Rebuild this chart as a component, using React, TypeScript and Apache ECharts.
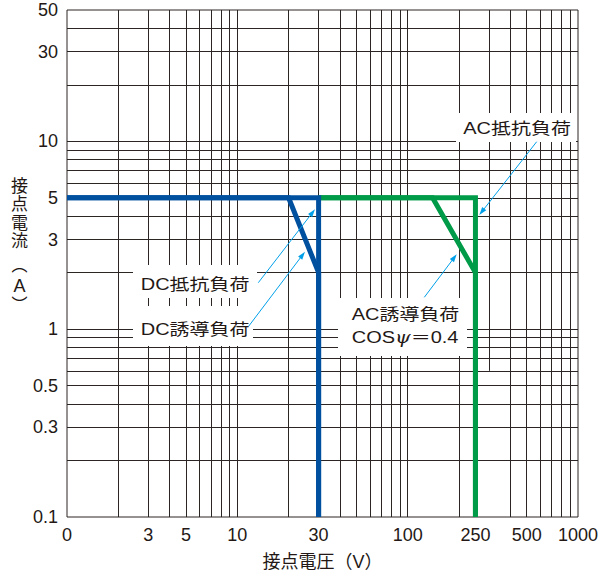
import { useEffect, useRef } from "react";
import * as echarts from "echarts";

// ---- data ----
const xGridValues = [2, 3, 4, 5, 6, 7, 8, 9, 10, 20, 30, 40, 50, 60, 70, 80, 90, 100, 200, 400, 500, 600, 700, 800, 900];
const xPartialGrid = [300];
const yGridValues = [0.2, 0.3, 0.4, 0.5, 0.6, 0.7, 0.8, 0.9, 1, 2, 3, 4, 5, 6, 7, 8, 9, 10, 20, 30, 40];
const xTickValues = [1, 3, 5, 10, 30, 100, 250, 500, 1000];
const xTickLabels = ["0", "3", "5", "10", "30", "100", "250", "500", "1000"];
const yTickValues = [0.1, 0.3, 0.5, 1, 3, 5, 10, 30, 50];
const yTickLabels = ["0.1", "0.3", "0.5", "1", "3", "5", "10", "30", "50"];

const dcResistiveV = [1, 30, 30];
const dcResistiveA = [5, 5, 0.1];
const dcInductiveV = [1, 20, 30, 30];
const dcInductiveA = [5, 5, 2, 0.1];
const acResistiveV = [30, 250, 250];
const acResistiveA = [5, 5, 0.1];
const acInductiveV = [30, 140, 250, 250];
const acInductiveA = [5, 5, 2, 0.1];

// ---- styles ----
const FONT = '"Liberation Sans", "Noto Sans CJK JP", sans-serif';
const INK = "#231815";
const GRIDC = "#2b2523";
const BLUE = "#0050a0";
const GREEN = "#009b48";
const CYAN = "#00a0e9";
const CLEAR = "rgba(0,0,0,0)";

const pairs = (xs: number[], ys: number[]) => xs.map((x, i) => [x, ys[i]]);

function arrow(x1: number, y1: number, x2: number, y2: number) {
  const dx = x2 - x1, dy = y2 - y1;
  const len = Math.hypot(dx, dy);
  const ux = dx / len, uy = dy / len;
  const L = 8, W = 2.6;
  const bx = x2 - ux * L, by = y2 - uy * L;
  return [
    { type: "line", silent: true, z: 110, shape: { x1, y1, x2: bx + ux, y2: by + uy }, style: { stroke: CYAN, lineWidth: 1 } },
    {
      type: "polygon", silent: true, z: 110,
      shape: { points: [[x2, y2], [bx - uy * W, by + ux * W], [bx + uy * W, by - ux * W]] },
      style: { fill: CYAN },
    },
  ];
}

function box(x: number, y: number, w: number, h: number) {
  return { type: "rect", silent: true, z: 100, shape: { x, y, width: w, height: h }, style: { fill: "#ffffff" } };
}

function label(text: string, x: number, y: number, size = 20, sy = 0.82) {
  return {
    type: "text", silent: true, z: 120, x, y, scaleY: sy,
    style: {
      text, fill: INK, fontSize: size, fontFamily: FONT, align: "left", verticalAlign: "middle",
      rich: { i: { fontSize: size, fontFamily: '"DejaVu Serif", serif', fontStyle: "italic", fill: INK } },
    },
  };
}

function dataLine(name: string, xs: number[], ys: number[], color: string) {
  return {
    type: "line", name, data: pairs(xs, ys), showSymbol: false, symbol: "none", z: 10, silent: true,
    lineStyle: { color, width: 5, join: "miter", cap: "butt" },
    emphasis: { disabled: true },
  };
}

export default function App() {
  const ref = useRef<HTMLDivElement>(null);
  useEffect(() => {
    if (!ref.current) return;
    const chart = echarts.init(ref.current, null, { renderer: "svg" });
    const gridLineData: any[] = [
      ...xGridValues.map((v) => ({ xAxis: v })),
      ...yGridValues.map((v) => ({ yAxis: v })),
      ...xPartialGrid.map((v) => [{ coord: [v, 0.6] }, { coord: [v, 50] }]),
    ];
    const tickData: any[] = [
      ...xTickValues.map((v, i) => ({
        xAxis: v,
        label: { show: true, position: "start", distance: 9, formatter: xTickLabels[i] },
      })),
      ...yTickValues.map((v, i) => ({
        yAxis: v,
        label: { show: true, position: "start", distance: 9, formatter: yTickLabels[i] },
      })),
    ];
    chart.setOption({
      animation: false,
      grid: { left: 67, right: 26, top: 10, bottom: 56, show: true, borderColor: GRIDC, borderWidth: 1, backgroundColor: "transparent" },
      xAxis: {
        type: "log", logBase: 10, min: 1, max: 1000,
        axisLine: { show: false }, axisTick: { show: false }, axisLabel: { show: false }, splitLine: { show: false },
        name: "接点電圧（V）", nameLocation: "middle", nameGap: 36,
        nameTextStyle: { fontSize: 18, color: INK, fontFamily: FONT },
      },
      yAxis: {
        type: "log", logBase: 10, min: 0.1, max: 50,
        axisLine: { show: false }, axisTick: { show: false }, axisLabel: { show: false }, splitLine: { show: false },
      },
      series: [
        {
          type: "line", name: "grid", data: [], silent: true, z: 1,
          markLine: {
            silent: true, symbol: ["none", "none"], z: 1, animation: false,
            lineStyle: { color: GRIDC, width: 1, type: "solid" },
            label: { show: false },
            emphasis: { disabled: true },
            data: gridLineData,
          },
        },
        {
          type: "line", name: "ticks", data: [], silent: true, z: 1,
          markLine: {
            silent: true, symbol: ["none", "none"], z: 1, animation: false,
            lineStyle: { color: CLEAR, width: 1, type: "solid" },
            label: { show: true, color: INK, fontSize: 18, fontFamily: FONT },
            emphasis: { disabled: true },
            data: tickData,
          },
        },
        dataLine("AC誘導負荷", acInductiveV, acInductiveA, GREEN),
        dataLine("AC抵抗負荷", acResistiveV, acResistiveA, GREEN),
        dataLine("DC誘導負荷", dcInductiveV, dcInductiveA, BLUE),
        dataLine("DC抵抗負荷", dcResistiveV, dcResistiveA, BLUE),
      ],
      graphic: [
        box(456, 113, 120, 29),
        box(338, 298, 129, 58),
        box(133, 265, 124, 33),
        box(133, 306, 120, 40),
        label("AC抵抗負荷", 463.3, 128),
        label("AC誘導負荷", 351.7, 314),
        label("COS{i|ψ}＝0.4", 351.7, 337.5),
        label("DC抵抗負荷", 140.7, 284),
        label("DC誘導負荷", 140.7, 328.7),
        ...arrow(536.7, 141.7, 479.3, 215),
        ...arrow(424.3, 297.3, 456.7, 254.3),
        ...arrow(258.3, 282.7, 315, 209.3),
        ...arrow(248.3, 326.7, 305, 251.7),
        {
          type: "text", silent: true, z: 120, x: 19.5, y: 214,
          style: { text: "接\n点\n電\n流", fill: INK, fontSize: 17, lineHeight: 18.5, fontFamily: FONT, align: "center", verticalAlign: "middle" },
        },
        {
          type: "text", silent: true, z: 120, x: 19.5, y: 265,
          style: { text: "︵", fill: INK, fontSize: 16, fontFamily: FONT, align: "center", verticalAlign: "middle" },
        },
        {
          type: "text", silent: true, z: 120, x: 19.5, y: 285.5,
          style: { text: "A", fill: INK, fontSize: 18, fontFamily: FONT, align: "center", verticalAlign: "middle" },
        },
        {
          type: "text", silent: true, z: 120, x: 19.5, y: 304,
          style: { text: "︶", fill: INK, fontSize: 16, fontFamily: FONT, align: "center", verticalAlign: "middle" },
        },
      ],
    });
    return () => chart.dispose();
  }, []);
  return <div ref={ref} style={{ position: "absolute", left: 0, top: 0, width: 604, height: 576 }} />;
}
